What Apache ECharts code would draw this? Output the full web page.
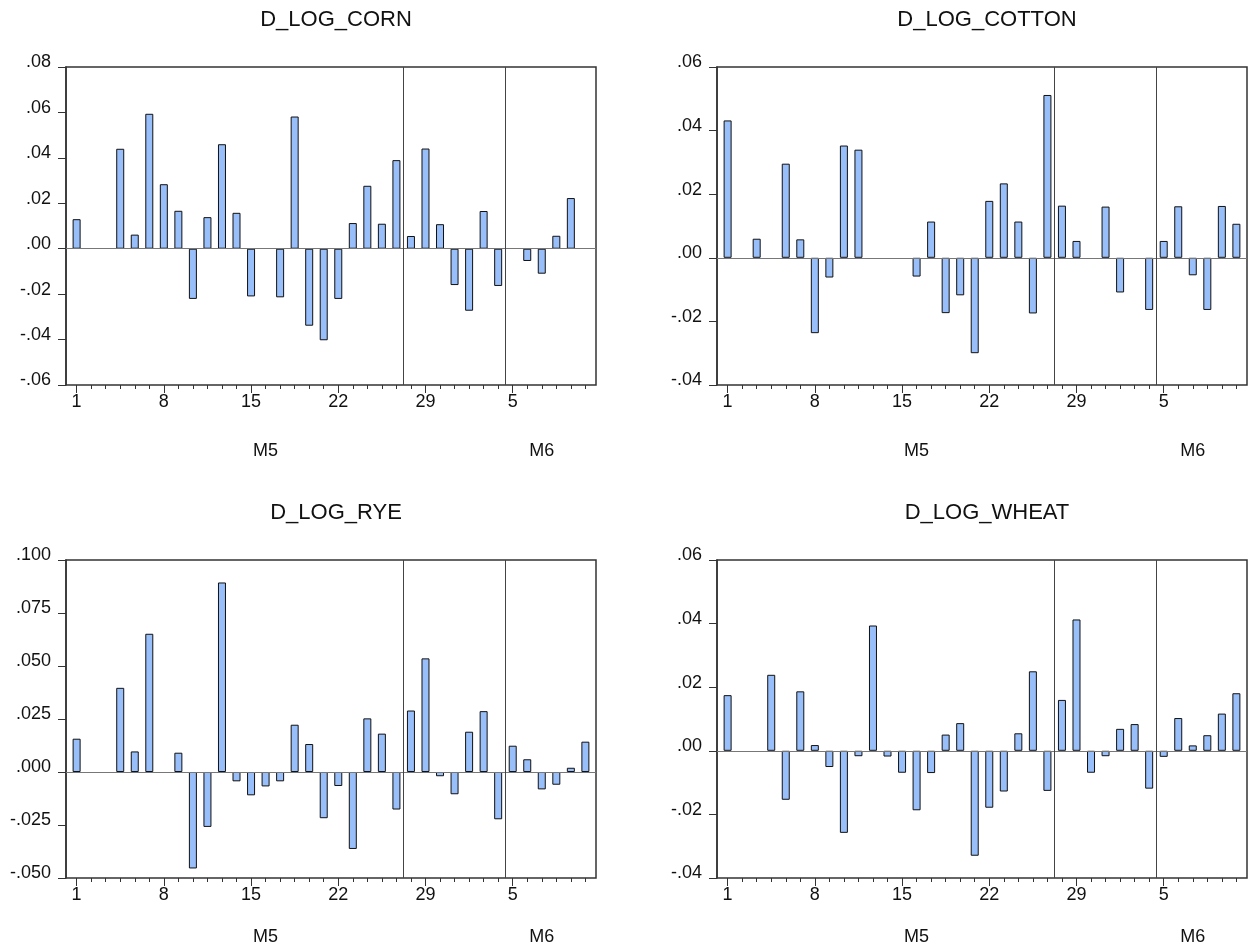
<!DOCTYPE html>
<html><head><meta charset="utf-8">
<script src="https://cdn.jsdelivr.net/npm/echarts/dist/echarts.min.js"></script>
<style>html,body{margin:0;padding:0;background:#fff}#c{width:1248px;height:946px}</style>
</head><body><div id="c"></div>
<script>
// ---- data ----
const dayLabels = ['1','','','','','','8','','','','','','15','','','','','','22','','','','','','29','','','','','','5','','','','',''];
const monthLabels = ['','','','','','','','','','','','','','M5','','','','','','','','','','','','','','','','','','','M6','','',''];
const corn = [0.013, null, null, 0.044, 0.0062, 0.0594, 0.0284, 0.0167, -0.0221, 0.0139, 0.046, 0.0158, -0.021, null, -0.0214, 0.0582, -0.0339, -0.0403, -0.0221, 0.0113, 0.0277, 0.011, 0.039, 0.0056, 0.0441, 0.0108, -0.016, -0.0273, 0.0166, -0.0164, null, -0.0054, -0.011, 0.0057, 0.0223, null];
const cotton = [0.0432, null, 0.006, null, 0.0296, 0.0058, -0.0237, -0.0062, 0.0353, 0.034, null, null, null, -0.0059, 0.0114, -0.0174, -0.0118, -0.030, 0.0179, 0.0234, 0.0114, -0.0175, 0.0512, 0.0164, 0.0053, null, 0.0161, -0.0109, null, -0.0164, 0.0053, 0.0162, -0.0055, -0.0164, 0.0163, 0.0107];
const rye = [0.0157, null, null, 0.0397, 0.0097, 0.0652, null, 0.0091, -0.0455, -0.0259, 0.0894, -0.0044, -0.011, -0.0068, -0.0044, 0.0223, 0.0132, -0.0218, -0.0066, -0.0363, 0.0253, 0.0181, -0.0177, 0.029, 0.0536, -0.002, -0.0105, 0.019, 0.0287, -0.0223, 0.0124, 0.006, -0.0082, -0.006, 0.002, 0.0143];
const wheat = [0.0175, null, null, 0.0239, -0.0154, 0.0187, 0.0018, -0.0051, -0.0258, -0.0017, 0.0394, -0.0018, -0.0069, -0.0187, -0.007, 0.0051, 0.0087, -0.033, -0.0179, -0.0128, 0.0055, 0.025, -0.0126, 0.016, 0.0413, -0.0069, -0.0017, 0.0069, 0.0084, -0.0119, -0.0019, 0.0103, 0.0017, 0.0049, 0.0117, 0.0181];
const titles = ['D_LOG_CORN', 'D_LOG_COTTON', 'D_LOG_RYE', 'D_LOG_WHEAT'];
const seriesData = [corn, cotton, rye, wheat];
const yMin = [-0.06, -0.04, -0.05, -0.04];
const yMax = [0.08, 0.06, 0.10, 0.06];
const yStep = [0.02, 0.02, 0.025, 0.02];
const yDecimals = [2, 2, 3, 2];
const splitLines = [22.5, 29.5];

// ---- layout ----
const FONT = 'Liberation Sans, Arial, sans-serif';
const panels = [
  {left: 66, top: 67},
  {left: 717, top: 67},
  {left: 66, top: 560},
  {left: 717, top: 560}
];
const W = 530, H = 318;
const xMin = -0.73, xMax = 35.73;
const sp = W / (xMax - xMin);
const n = dayLabels.length;

const fmt = dec => v => {
  const s = Math.abs(v).toFixed(dec).replace(/^0/, '');
  return (v < -1e-9 ? '-' : '') + s;
};

const option = {animation: false, title: [], grid: [], xAxis: [], yAxis: [], series: []};

function addTickGrid(p, axisCfg) {
  const g = option.grid.length;
  option.grid.push({left: p.left + (-0.5 - xMin) * sp, top: p.top, width: n * sp, height: H});
  option.yAxis.push({type: 'value', gridIndex: g, show: false, min: 0, max: 1});
  option.xAxis.push(Object.assign({type: 'category', gridIndex: g, position: 'bottom',
    axisLine: {show: false, onZero: false}}, axisCfg));
}

panels.forEach((p, k) => {
  const gMain = option.grid.length;
  option.grid.push({left: p.left, top: p.top, width: W, height: H, show: true,
    borderColor: '#333', borderWidth: 1.5, backgroundColor: 'transparent'});

  option.title.push({text: titles[k], left: p.left + W / 2, top: p.top - 63, textAlign: 'center',
    textStyle: {fontFamily: FONT, fontSize: 22, fontWeight: 'normal', color: '#111'}});

  const xv = option.xAxis.length;
  option.xAxis.push({type: 'value', gridIndex: gMain, min: xMin, max: xMax, show: false});
  const yv = option.yAxis.length;
  option.yAxis.push({type: 'value', gridIndex: gMain, min: yMin[k], max: yMax[k], interval: yStep[k],
    position: 'left',
    axisLine: {show: true, onZero: false, lineStyle: {color: '#333', width: 1.5}},
    axisTick: {show: true, length: 8, lineStyle: {color: '#333'}},
    splitLine: {show: false},
    axisLabel: {formatter: fmt(yDecimals[k]), fontFamily: FONT, fontSize: 18, color: '#111', margin: 15,
      verticalAlign: 'bottom', lineHeight: 9}});

  // minor ticks (every observation)
  addTickGrid(p, {data: dayLabels, axisLabel: {show: false},
    axisTick: {show: true, inside: false, alignWithLabel: true, interval: 0, length: 4, lineStyle: {color: '#333'}}});
  // major ticks + day labels
  addTickGrid(p, {data: dayLabels,
    axisTick: {show: true, inside: false, alignWithLabel: true, interval: (i, v) => v !== '', length: 8, lineStyle: {color: '#333'}},
    axisLabel: {interval: (i, v) => v !== '', margin: 8, fontFamily: FONT, fontSize: 18, color: '#111'}});
  // month labels
  addTickGrid(p, {data: monthLabels, axisTick: {show: false},
    axisLabel: {interval: (i, v) => v !== '', margin: 57, fontFamily: FONT, fontSize: 18, color: '#111'}});

  option.series.push({
    type: 'bar', xAxisIndex: xv, yAxisIndex: yv, barWidth: 8,
    data: seriesData[k].map((v, i) => [i, v]),
    itemStyle: {color: '#99BFFA', borderColor: '#111', borderWidth: 1},
    markLine: {silent: true, symbol: 'none', label: {show: false},
      lineStyle: {color: '#444', width: 1, type: 'solid'},
      data: [{yAxis: 0, lineStyle: {color: '#777', width: 1, type: 'solid'}}]
        .concat(splitLines.map(x => ({xAxis: x})))}
  });
});

const chart = echarts.init(document.getElementById('c'), null, {renderer: 'canvas'});
chart.setOption(option);
</script>
</body></html>
